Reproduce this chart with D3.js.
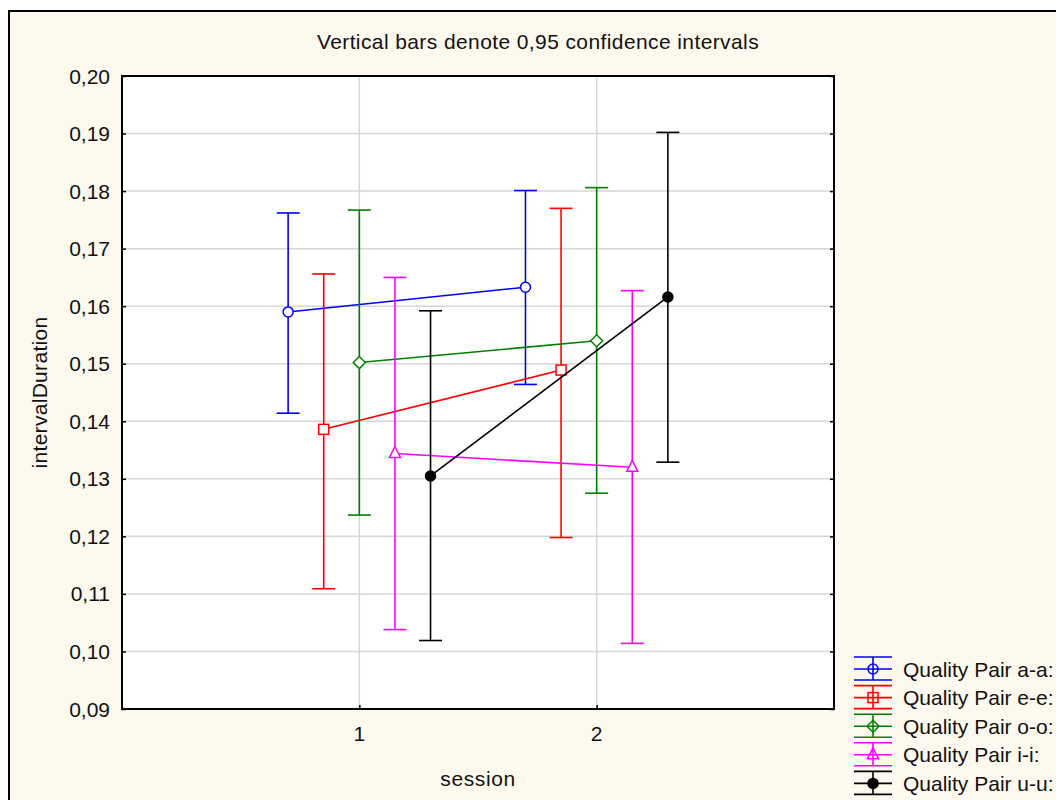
<!DOCTYPE html>
<html>
<head>
<meta charset="utf-8">
<script src="https://cdn.jsdelivr.net/npm/d3@7"></script>
<style>
  body { margin: 0; background: #ffffff; }
  text { font-family: Arial, "Liberation Sans", sans-serif; fill: #111; }
</style>
</head>
<body>
<div id="chart"></div>
<script>
// Sessions on the x axis
const sessions = [1, 2];
const yTicks = [0.09, 0.10, 0.11, 0.12, 0.13, 0.14, 0.15, 0.16, 0.17, 0.18, 0.19, 0.20];

// Series labels (legend order)
const seriesNames = ["Quality Pair a-a:", "Quality Pair e-e:", "Quality Pair o-o:", "Quality Pair i-i:", "Quality Pair u-u:"];

// Means and 0.95 confidence limits, session 1 and 2
const meanAA = [0.1590, 0.1633];
const lowAA  = [0.1414, 0.1464];
const highAA = [0.1762, 0.1801];

const meanEE = [0.1386, 0.1489];
const lowEE  = [0.1109, 0.1198];
const highEE = [0.1656, 0.1770];

const meanOO = [0.1502, 0.1540];
const lowOO  = [0.1237, 0.1275];
const highOO = [0.1767, 0.1806];

const meanII = [0.1344, 0.1320];
const lowII  = [0.1038, 0.1014];
const highII = [0.1650, 0.1627];

const meanUU = [0.1305, 0.1616];
const lowUU  = [0.1019, 0.1329];
const highUU = [0.1592, 0.1902];

const means = [meanAA, meanEE, meanOO, meanII, meanUU];
const lows = [lowAA, lowEE, lowOO, lowII, lowUU];
const highs = [highAA, highEE, highOO, highII, highUU];

// styling
const colors = ["#0000ff", "#ff0000", "#008000", "#ff00ff", "#000000"];
const markers = ["circle", "square", "diamond", "triangle", "dot"];
const offsets = [-0.3, -0.15, 0, 0.15, 0.3];

const width = 1056, height = 800;
const plot = { left: 122, right: 834, top: 76, bottom: 709 };

const svg = d3.select("#chart")
    .append("svg")
    .attr("width", width)
    .attr("height", height);

// outer frame with cream background
svg.append("rect")
    .attr("x", 9).attr("y", 11)
    .attr("width", width + 20).attr("height", height + 20)
    .attr("fill", "#fdf9ef")
    .attr("stroke", "#000")
    .attr("stroke-width", 2);

const x = d3.scaleLinear().domain([0, 3]).range([plot.left, plot.right]);
const y = d3.scaleLinear().domain([0.09, 0.20]).range([plot.bottom, plot.top]);

// plot background
svg.append("rect")
    .attr("x", plot.left).attr("y", plot.top)
    .attr("width", plot.right - plot.left)
    .attr("height", plot.bottom - plot.top)
    .attr("fill", "#fff");

// grid
svg.append("g").selectAll("line")
    .data(yTicks.slice(1, -1))
    .enter().append("line")
    .attr("x1", plot.left).attr("x2", plot.right)
    .attr("y1", d => y(d)).attr("y2", d => y(d))
    .attr("stroke", "#d6d6d6").attr("stroke-width", 1.5);

svg.append("g").selectAll("line")
    .data(sessions)
    .enter().append("line")
    .attr("x1", d => x(d)).attr("x2", d => x(d))
    .attr("y1", plot.top).attr("y2", plot.bottom)
    .attr("stroke", "#d6d6d6").attr("stroke-width", 1.5);

// axes (ticks pointing inward)
const fmt = d => d3.format(".2f")(d).replace(".", ",");
const yAxis = svg.append("g")
    .attr("transform", `translate(${plot.left},0)`)
    .call(d3.axisRight(y).tickValues(yTicks).tickSize(4).tickFormat(""));
yAxis.select(".domain").remove();
yAxis.selectAll("line").attr("stroke", "#000").attr("stroke-width", 1.5);

const yAxisR = svg.append("g")
    .attr("transform", `translate(${plot.right},0)`)
    .call(d3.axisLeft(y).tickValues(yTicks).tickSize(4).tickFormat(""));
yAxisR.select(".domain").remove();
yAxisR.selectAll("line").attr("stroke", "#000").attr("stroke-width", 1.5);

const xAxis = svg.append("g")
    .attr("transform", `translate(0,${plot.bottom})`)
    .call(d3.axisTop(x).tickValues(sessions).tickSize(4).tickFormat(""));
xAxis.select(".domain").remove();
xAxis.selectAll("line").attr("stroke", "#000").attr("stroke-width", 1.5);

// tick labels
svg.append("g").selectAll("text")
    .data(yTicks)
    .enter().append("text")
    .attr("x", 110)
    .attr("y", d => y(d))
    .attr("dy", "0.36em")
    .attr("text-anchor", "end")
    .attr("font-size", "21px")
    .text(fmt);

svg.append("g").selectAll("text")
    .data(sessions)
    .enter().append("text")
    .attr("x", d => x(d))
    .attr("y", 741)
    .attr("text-anchor", "middle")
    .attr("font-size", "21px")
    .text(d => d);

// plot border
svg.append("rect")
    .attr("x", plot.left).attr("y", plot.top)
    .attr("width", plot.right - plot.left)
    .attr("height", plot.bottom - plot.top)
    .attr("fill", "none")
    .attr("stroke", "#000")
    .attr("stroke-width", 2);

// titles
svg.append("text")
    .attr("x", 538).attr("y", 49)
    .attr("text-anchor", "middle")
    .attr("font-size", "21px")
    .attr("letter-spacing", "0.4px")
    .text("Vertical bars denote 0,95 confidence intervals");

svg.append("text")
    .attr("x", (plot.left + plot.right) / 2).attr("y", 786)
    .attr("text-anchor", "middle")
    .attr("font-size", "21px")
    .attr("letter-spacing", "0.6px")
    .text("session");

svg.append("text")
    .attr("transform", `translate(47,${(plot.top + plot.bottom) / 2}) rotate(-90)`)
    .attr("text-anchor", "middle")
    .attr("font-size", "21px")
    .attr("letter-spacing", "0.3px")
    .text("intervalDuration");

// marker drawing
function drawMarker(g, type, color, cx, cy, fill) {
    if (type === "circle" || type === "dot") {
        g.append("circle")
            .attr("cx", cx).attr("cy", cy).attr("r", 5)
            .attr("fill", type === "dot" ? color : fill)
            .attr("stroke", color).attr("stroke-width", 1.5);
    } else if (type === "square") {
        g.append("rect")
            .attr("x", cx - 5).attr("y", cy - 5)
            .attr("width", 10).attr("height", 10)
            .attr("fill", fill)
            .attr("stroke", color).attr("stroke-width", 1.5);
    } else if (type === "diamond") {
        g.append("path")
            .attr("d", `M${cx},${cy - 6}L${cx + 6},${cy}L${cx},${cy + 6}L${cx - 6},${cy}Z`)
            .attr("fill", fill)
            .attr("stroke", color).attr("stroke-width", 1.5);
    } else if (type === "triangle") {
        g.append("path")
            .attr("d", `M${cx},${cy - 7}L${cx + 5.5},${cy + 4}L${cx - 5.5},${cy + 4}Z`)
            .attr("fill", fill)
            .attr("stroke", color).attr("stroke-width", 1.5);
    }
}

const capHalf = 11.5;
const plotG = svg.append("g");

seriesNames.forEach((name, i) => {
    const g = plotG.append("g");
    const pts = sessions.map((s, j) => ({
        x: x(s + offsets[i]), m: means[i][j], lo: lows[i][j], hi: highs[i][j]
    }));

    // error bars
    pts.forEach(p => {
        g.append("line")
            .attr("x1", p.x).attr("x2", p.x)
            .attr("y1", y(p.lo)).attr("y2", y(p.hi))
            .attr("stroke", colors[i]).attr("stroke-width", 1.6);
        [p.lo, p.hi].forEach(v => {
            g.append("line")
                .attr("x1", p.x - capHalf).attr("x2", p.x + capHalf)
                .attr("y1", y(v)).attr("y2", y(v))
                .attr("stroke", colors[i]).attr("stroke-width", 1.6);
        });
    });

    // mean line
    g.append("path")
        .datum(pts)
        .attr("d", d3.line().x(d => d.x).y(d => y(d.m)))
        .attr("fill", "none")
        .attr("stroke", colors[i])
        .attr("stroke-width", 1.6);

    pts.forEach(p => drawMarker(g, markers[i], colors[i], p.x, y(p.m), "#fff"));
});

// legend
const legend = svg.append("g");
seriesNames.forEach((name, i) => {
    const cy = 669 + i * 28.6;
    const g = legend.append("g");
    const x0 = 854, x1 = 892, xc = 873;
    [cy - 12, cy, cy + 11].forEach(v => {
        g.append("line")
            .attr("x1", x0).attr("x2", x1)
            .attr("y1", v).attr("y2", v)
            .attr("stroke", colors[i]).attr("stroke-width", 1.6);
    });
    g.append("line")
        .attr("x1", xc).attr("x2", xc)
        .attr("y1", cy - 12).attr("y2", cy + 11)
        .attr("stroke", colors[i]).attr("stroke-width", 1.6);
    drawMarker(g, markers[i], colors[i], xc, cy, "none");
    g.append("text")
        .attr("x", 903).attr("y", cy)
        .attr("dy", "0.36em")
        .attr("font-size", "21px")
        .text(name);
});
</script>
</body>
</html>
